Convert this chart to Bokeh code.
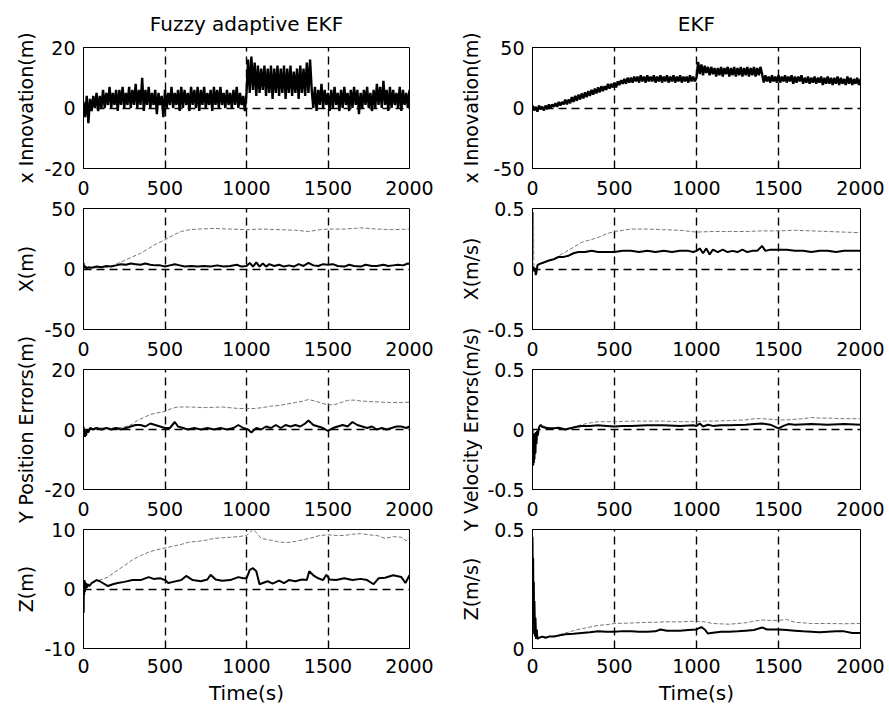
from math import pi
from bokeh.plotting import figure
from bokeh.models import Range1d, FixedTicker, CustomJSTickFormatter, Label
from bokeh.layouts import row, column
from bokeh.embed import file_html
from bokeh.resources import INLINE

FONT = "DejaVu Sans"

# ---------------------------------------------------------------- data
COL_TITLES = ["Fuzzy adaptive EKF", "EKF"]
YLABELS_LEFT = ["x Innovation(m)", "X(m)", "Y Position Errors(m)", "Z(m)"]
YLABELS_RIGHT = ["x Innovation(m)", "X(m/s)", "Y Velocity Errors(m/s)", "Z(m/s)"]
X_LABEL = "Time(s)"

TIME_TICKS = [0, 500, 1000, 1500, 2000]
LEFT_YLIM = [(-20, 20), (-50, 50), (-20, 20), (-10, 10)]
RIGHT_YLIM = [(-50, 50), (-0.5, 0.5), (-0.5, 0.5), (0, 0.5)]
LEFT_YTICKS = [[-20, 0, 20], [-50, 0, 50], [-20, 0, 20], [-10, 0, 10]]
RIGHT_YTICKS = [[-50, 0, 50], [-0.5, 0, 0.5], [-0.5, 0, 0.5], [0, 0.5]]

# innovation traces, sampled every 10 s
INNOV_T = list(range(0, 2001, 10))
FUZZY_INNOV = [
    2, -3, 4, -5, 3, -1, 4, 0, 5, -1,
    4, 0, 6, 0, 5, 1, 7, 0, 5, 1,
    6, -1, 6, 1, 7, 0, 5, 1, 7, 0,
    6, 1, 8, 0, 6, 1, 10, -1, 6, 1,
    7, 0, 5, 1, 6, -2, 5, 1, 4, -3,
    6, 0, 5, 1, 7, 0, 5, 1, 6, -1,
    7, 0, 6, 1, 5, -1, 7, 1, 6, 0,
    7, -1, 6, 1, 7, 0, 5, 1, 6, -1,
    7, 1, 6, 0, 7, 1, 5, 0, 6, 1,
    5, 0, 6, 1, 7, 0, 5, 1, 4, -1,
    5, 16, 5, 17, 6, 15, 4, 14, 5, 13,
    6, 14, 4, 13, 5, 14, 3, 13, 5, 14,
    4, 13, 5, 14, 3, 13, 5, 14, 4, 12,
    5, 13, 3, 14, 5, 13, 4, 15, 5, 16,
    6, 0, 7, -1, 6, 1, 8, 0, 6, 1,
    5, -1, 6, 0, 7, 1, 5, -1, 6, 0,
    7, 1, 5, -1, 6, 0, 7, 1, 6, -2,
    5, 0, 6, 1, 7, 0, 5, -1, 6, 0,
    8, 1, 7, 0, 9, 1, 6, -1, 7, 0,
    6, 1, 5, 0, 7, -1, 6, 1, 5, 0,
    6,
]
EKF_INNOV = [
    2, -2, 1, -3, 2, -1, 1, -2, 2, -1,
    3, 0, 3, 1, 4, 1, 5, 2, 5, 3,
    7, 3, 7, 4, 9, 5, 10, 6, 11, 7,
    12, 8, 13, 9, 14, 10, 15, 11, 16, 12,
    17, 13, 18, 14, 18, 15, 20, 16, 20, 17,
    21, 17, 22, 19, 23, 20, 24, 20, 25, 21,
    25, 21, 26, 22, 26, 21, 27, 22, 26, 21,
    27, 22, 26, 22, 27, 21, 26, 22, 27, 21,
    26, 22, 27, 21, 26, 22, 27, 21, 26, 22,
    27, 21, 26, 22, 26, 21, 27, 22, 26, 22,
    25, 38, 28, 36, 27, 35, 29, 34, 27, 34,
    28, 33, 26, 33, 27, 34, 26, 33, 28, 34,
    26, 33, 27, 34, 26, 33, 27, 34, 26, 33,
    27, 34, 26, 33, 27, 34, 26, 33, 27, 34,
    28, 21, 27, 22, 26, 21, 27, 22, 26, 21,
    27, 21, 26, 22, 27, 21, 26, 22, 27, 20,
    26, 21, 26, 22, 27, 20, 25, 21, 26, 20,
    25, 21, 26, 20, 25, 21, 26, 19, 25, 20,
    26, 20, 25, 19, 25, 20, 26, 19, 25, 20,
    24, 19, 26, 20, 25, 19, 24, 20, 25, 19,
    24,
]

# error traces as (time s, value)
FUZZY_X_SOLID = [(0, 5), (3, 1), (6, 3), (10, 0.5), (15, 2), (20, 0.5), (30, 1.5), (50, 1), (80, 2), (110, 1.5),
                 (140, 2.5), (170, 2), (200, 3), (230, 4), (260, 3.5), (290, 4.5), (320, 4), (350, 3.5), (380, 4.5),
                 (410, 3.5), (440, 3), (470, 3), (500, 2), (530, 3), (560, 4), (590, 3), (620, 2), (660, 2.5),
                 (700, 2), (740, 2.5), (780, 2), (820, 3), (860, 2), (900, 2.5), (940, 3.5), (970, 2), (1000, 2.5),
                 (1020, 5), (1040, 2), (1060, 5.5), (1080, 2), (1100, 4.5), (1120, 2), (1140, 4), (1170, 2.5),
                 (1200, 3.5), (1230, 2), (1260, 3), (1290, 2), (1320, 4), (1350, 2.5), (1380, 5), (1410, 3),
                 (1440, 2.5), (1470, 4), (1500, 3.5), (1530, 4), (1560, 2.5), (1600, 2), (1630, 3.5), (1660, 2.5),
                 (1700, 2), (1730, 3.5), (1770, 2.5), (1800, 2.5), (1840, 3.5), (1870, 2.5), (1900, 3), (1930, 3.5),
                 (1960, 3), (1990, 4.5), (2000, 4)]
FUZZY_X_DOTTED = [(0, 5), (3, 1), (6, 3), (10, 0.5), (20, 1), (50, 1), (100, 1), (150, 1.5), (200, 4), (250, 7),
                  (300, 10), (350, 13), (400, 17), (450, 21), (500, 24), (550, 28), (600, 31), (650, 32.5),
                  (700, 33), (800, 33.5), (900, 33), (1000, 32.5), (1100, 33), (1200, 32.5), (1300, 32),
                  (1380, 31), (1450, 32.5), (1500, 33), (1600, 33), (1700, 34), (1800, 33), (1900, 32.5), (2000, 33)]

EKF_VX_SOLID = [(0, 0), (5, 0.02), (10, -0.02), (15, 0.01), (20, -0.05), (25, -0.02), (30, 0.03), (40, 0.04),
                (60, 0.05), (80, 0.06), (100, 0.07), (130, 0.08), (160, 0.1), (190, 0.1), (220, 0.11), (250, 0.13),
                (280, 0.14), (320, 0.14), (360, 0.15), (400, 0.14), (450, 0.14), (500, 0.14), (550, 0.15),
                (600, 0.15), (650, 0.14), (700, 0.15), (750, 0.14), (800, 0.15), (850, 0.14), (900, 0.15),
                (950, 0.15), (980, 0.14), (1000, 0.15), (1020, 0.17), (1040, 0.13), (1060, 0.17), (1080, 0.12),
                (1100, 0.16), (1130, 0.14), (1160, 0.16), (1190, 0.14), (1220, 0.15), (1250, 0.14), (1280, 0.16),
                (1310, 0.14), (1340, 0.15), (1370, 0.15), (1400, 0.19), (1420, 0.15), (1450, 0.16), (1500, 0.16),
                (1550, 0.16), (1600, 0.15), (1650, 0.15), (1700, 0.14), (1750, 0.15), (1800, 0.15), (1850, 0.14),
                (1900, 0.15), (1950, 0.15), (2000, 0.15)]
EKF_VX_DOTTED = [(0, 0), (2, 0.45), (4, 0.1), (6, 0.47), (8, 0.02), (10, 0.0), (20, -0.03), (30, 0.03), (60, 0.05),
                 (100, 0.07), (150, 0.1), (200, 0.14), (250, 0.18), (300, 0.22), (350, 0.24), (400, 0.26),
                 (450, 0.29), (500, 0.31), (550, 0.32), (600, 0.33), (650, 0.33), (700, 0.33), (800, 0.325),
                 (900, 0.32), (1000, 0.305), (1100, 0.31), (1200, 0.31), (1300, 0.31), (1400, 0.315),
                 (1500, 0.315), (1600, 0.32), (1700, 0.315), (1800, 0.31), (1900, 0.305), (2000, 0.30)]

FUZZY_Y_SOLID = [(0, 1), (3, -1.5), (6, 0), (9, -2.5), (12, -0.5), (16, -2), (22, 0), (30, -1), (40, 0.5), (60, 0),
                 (80, 0.5), (110, 0), (140, 0.5), (170, 0), (200, 0.5), (230, 0), (260, 0.5), (290, 1), (320, 1.5),
                 (350, 1.5), (380, 1), (410, 2), (440, 1.5), (470, 1), (500, 0.5), (530, 0.5), (560, 2.5),
                 (580, 1), (610, 0.5), (640, 0), (680, 0.5), (720, 0), (760, 0.5), (800, 0), (840, 0.5), (880, 0),
                 (920, 0.5), (950, 1.5), (980, 0.5), (1010, 0), (1030, -1), (1060, 0.5), (1090, 0), (1120, 1),
                 (1150, 0.5), (1180, 1.5), (1210, 0.5), (1240, 1.5), (1270, 1), (1300, 1.5), (1330, 1),
                 (1360, 2), (1380, 3), (1410, 1.5), (1440, 1), (1470, 0.5), (1500, -0.5), (1530, 0.5),
                 (1560, 1), (1590, 1.5), (1620, 1), (1650, 2.5), (1680, 1.5), (1710, 1), (1740, 0.5), (1770, 1),
                 (1800, 0), (1830, 0.5), (1860, 0), (1890, 0.5), (1920, 1), (1950, 1), (1980, 0.5), (2000, 1)]
FUZZY_Y_DOTTED = [(0, 1), (3, -1.5), (6, 0), (9, -2.5), (12, -0.5), (16, -2), (22, 0), (30, -1), (40, 0.5),
                  (100, 0.5), (200, 0.5), (250, 0.8), (300, 1.8), (330, 3), (370, 4), (410, 5), (450, 5.5),
                  (500, 6), (540, 7), (580, 7.5), (650, 7.5), (750, 7.3), (850, 7.5), (950, 7), (1000, 7),
                  (1050, 7), (1100, 7.3), (1150, 7.8), (1200, 8), (1250, 8.5), (1300, 9), (1350, 9.5),
                  (1380, 10), (1420, 9.5), (1460, 8.8), (1500, 8.2), (1540, 8.3), (1580, 9), (1620, 9.7),
                  (1660, 9.8), (1700, 9.5), (1760, 9.3), (1800, 9.2), (1880, 9), (1950, 9), (2000, 9.1)]

EKF_VY_SOLID = [(0, 0), (2, -0.12), (4, -0.3), (6, -0.04), (8, -0.28), (10, -0.08), (12, -0.25), (15, -0.03),
                (18, -0.2), (21, -0.02), (24, -0.12), (28, -0.01), (32, -0.05), (40, 0.02), (50, 0.04), (60, 0.02),
                (80, 0.015), (100, 0.01), (130, 0.01), (160, 0.015), (200, 0.0), (230, 0.01), (260, 0.02),
                (300, 0.03), (350, 0.03), (400, 0.035), (450, 0.03), (500, 0.025), (550, 0.03), (600, 0.03),
                (700, 0.035), (800, 0.035), (900, 0.03), (980, 0.035), (1000, 0.03), (1020, 0.05), (1040, 0.025),
                (1070, 0.04), (1100, 0.03), (1150, 0.035), (1200, 0.035), (1300, 0.04), (1350, 0.045),
                (1400, 0.05), (1450, 0.04), (1500, 0.01), (1530, 0.03), (1560, 0.045), (1600, 0.04),
                (1700, 0.045), (1800, 0.04), (1900, 0.045), (2000, 0.04)]
EKF_VY_DOTTED = [(0, 0), (2, -0.12), (4, -0.3), (6, -0.04), (8, -0.28), (10, -0.08), (12, -0.25), (15, -0.03),
                 (18, -0.2), (21, -0.02), (24, -0.12), (28, -0.01), (32, -0.05), (40, 0.02), (50, 0.04),
                 (100, 0.01), (200, 0.005), (250, 0.02), (300, 0.04), (350, 0.055), (400, 0.065), (500, 0.065),
                 (600, 0.07), (700, 0.07), (800, 0.07), (900, 0.065), (1000, 0.065), (1050, 0.07), (1100, 0.07),
                 (1200, 0.075), (1300, 0.08), (1350, 0.09), (1400, 0.09), (1450, 0.085), (1500, 0.08),
                 (1550, 0.08), (1600, 0.085), (1650, 0.09), (1700, 0.1), (1750, 0.095), (1800, 0.095),
                 (1900, 0.09), (2000, 0.09)]

FUZZY_Z_SOLID = [(0, 0), (1, -4), (2, 1.5), (4, -1), (6, 1.5), (8, -0.5), (10, 1.2), (13, 0), (16, 1), (20, 0.2),
                 (25, 0.8), (35, 0.5), (50, 1), (80, 1.5), (100, 1.3), (130, 0.8), (150, 0.5), (180, 0.8),
                 (210, 1), (250, 1.2), (300, 1.5), (350, 1.5), (400, 2), (430, 1.7), (470, 1.8), (500, 1.5),
                 (520, 1), (550, 1.2), (600, 1.5), (630, 2.2), (670, 1.5), (720, 1.3), (760, 1.6), (780, 2.4),
                 (810, 1.6), (850, 1.4), (900, 1.5), (950, 2), (980, 1.8), (1000, 1.8), (1020, 3.2), (1040, 3.5),
                 (1060, 3), (1080, 0.8), (1100, 1), (1130, 1.3), (1160, 0.9), (1200, 1.4), (1230, 1), (1260, 1.5),
                 (1300, 1.3), (1340, 1.6), (1370, 1.5), (1385, 3), (1410, 2.3), (1440, 1.8), (1470, 1.5),
                 (1490, 2.4), (1510, 1.6), (1550, 1.5), (1600, 1.8), (1650, 1.5), (1700, 1.7), (1740, 1.5),
                 (1780, 0.8), (1810, 1.8), (1850, 1.9), (1900, 2.3), (1950, 2), (1975, 1), (2000, 2.3)]
FUZZY_Z_DOTTED = [(0, 0), (1, -4), (2, 1.5), (4, -1), (6, 1.5), (8, -0.5), (10, 1.2), (13, 0), (16, 1), (20, 0.2),
                  (25, 0.8), (35, 0.5), (50, 1), (80, 1.5), (100, 1.5), (150, 2), (200, 3), (250, 3.9), (300, 4.9),
                  (350, 5.6), (400, 6.2), (450, 6.6), (500, 6.9), (550, 7.2), (600, 7.5), (650, 7.9), (700, 8),
                  (750, 8.2), (800, 8.5), (850, 8.6), (900, 8.7), (950, 8.8), (1000, 9), (1020, 9.5), (1040, 10),
                  (1060, 9.5), (1090, 8.5), (1150, 8.2), (1200, 7.9), (1250, 7.8), (1300, 8), (1350, 8.3),
                  (1400, 8.6), (1450, 9), (1500, 9.1), (1550, 9), (1600, 9), (1650, 9.2), (1700, 9.3),
                  (1750, 9.1), (1800, 9), (1850, 8.5), (1900, 8.8), (1950, 8.7), (1980, 8.1), (2000, 8.7)]

EKF_VZ_SOLID = [(0, 0.47), (2, 0.2), (4, 0.38), (6, 0.1), (8, 0.28), (10, 0.06), (12, 0.2), (15, 0.05), (18, 0.13),
                (22, 0.04), (26, 0.08), (30, 0.04), (40, 0.045), (60, 0.05), (80, 0.045), (100, 0.05), (130, 0.05),
                (160, 0.055), (200, 0.06), (250, 0.062), (300, 0.065), (350, 0.068), (400, 0.072), (450, 0.07),
                (500, 0.07), (550, 0.073), (600, 0.072), (650, 0.07), (700, 0.07), (750, 0.072), (780, 0.08),
                (820, 0.075), (900, 0.075), (950, 0.078), (1000, 0.08), (1030, 0.09), (1050, 0.08), (1070, 0.063),
                (1100, 0.066), (1150, 0.07), (1200, 0.07), (1250, 0.072), (1300, 0.075), (1350, 0.078),
                (1400, 0.088), (1430, 0.08), (1500, 0.08), (1550, 0.078), (1600, 0.075), (1650, 0.072),
                (1700, 0.07), (1750, 0.068), (1800, 0.07), (1850, 0.072), (1900, 0.072), (1950, 0.065),
                (2000, 0.065)]
EKF_VZ_DOTTED = [(0, 0.47), (2, 0.2), (4, 0.38), (6, 0.1), (8, 0.28), (10, 0.06), (12, 0.2), (15, 0.05),
                 (18, 0.13), (22, 0.04), (26, 0.08), (30, 0.04), (40, 0.045), (60, 0.05), (100, 0.05),
                 (150, 0.055), (200, 0.065), (250, 0.075), (300, 0.083), (350, 0.09), (400, 0.097), (450, 0.1),
                 (500, 0.105), (600, 0.107), (700, 0.11), (750, 0.11), (800, 0.112), (900, 0.112), (1000, 0.115),
                 (1050, 0.112), (1100, 0.105), (1200, 0.102), (1300, 0.108), (1350, 0.115), (1400, 0.12),
                 (1450, 0.118), (1500, 0.118), (1550, 0.122), (1600, 0.11), (1650, 0.108), (1700, 0.105),
                 (1800, 0.105), (1900, 0.104), (2000, 0.105)]

LEFT_SERIES = [None, (FUZZY_X_SOLID, FUZZY_X_DOTTED), (FUZZY_Y_SOLID, FUZZY_Y_DOTTED), (FUZZY_Z_SOLID, FUZZY_Z_DOTTED)]
RIGHT_SERIES = [None, (EKF_VX_SOLID, EKF_VX_DOTTED), (EKF_VY_SOLID, EKF_VY_DOTTED), (EKF_VZ_SOLID, EKF_VZ_DOTTED)]

# ---------------------------------------------------------------- layout
ROW_TOP = [47, 11, 11, 11]
ROW_FRAME = [121, 121, 120, 119]
ROW_BOTTOM = [29, 29, 29, 62]
COLS = [dict(left=43, frame=326, right=26), dict(left=50, frame=328, right=27)]
STRIP_W = [40, 47]
TOTAL_H = sum(ROW_TOP) + sum(ROW_BOTTOM) + sum(ROW_FRAME)


def make_panel(c, r, ylim, yticks, innov, pair):
    cfg = COLS[c]
    h = ROW_TOP[r] + ROW_FRAME[r] + ROW_BOTTOM[r]
    w = cfg["left"] + cfg["frame"] + cfg["right"]
    p = figure(width=w, height=h, x_range=Range1d(0, 2000), y_range=Range1d(*ylim),
               output_backend="svg", toolbar_location=None,
               title=COL_TITLES[c] if r == 0 else None,
               min_border_left=cfg["left"], min_border_right=cfg["right"],
               min_border_top=ROW_TOP[r], min_border_bottom=ROW_BOTTOM[r])
    p.background_fill_color = "white"
    p.border_fill_color = "white"
    p.outline_line_color = "black"
    p.outline_line_width = 1
    p.xaxis.ticker = FixedTicker(ticks=TIME_TICKS)
    p.yaxis.ticker = FixedTicker(ticks=yticks)
    p.yaxis.formatter = CustomJSTickFormatter(code="return String(tick);")
    p.xaxis.formatter = CustomJSTickFormatter(code="return String(tick);")
    for ax in (p.xaxis[0], p.yaxis[0]):
        ax.axis_line_color = "black"
        ax.major_tick_in = 4
        ax.major_tick_out = 0
        ax.major_tick_line_color = "black"
        ax.minor_tick_line_color = None
        ax.major_label_text_font = FONT
        ax.major_label_text_font_size = "19px"
        ax.major_label_text_color = "black"
        ax.major_label_standoff = 8
    p.xaxis.major_label_standoff = 12
    if r == 3:
        p.xaxis.major_label_standoff = 10
        p.xaxis.axis_label = X_LABEL
        p.xaxis.axis_label_text_font = FONT
        p.xaxis.axis_label_text_font_size = "20px"
        p.xaxis.axis_label_text_font_style = "normal"
        p.xaxis.axis_label_text_color = "black"
        p.xaxis.axis_label_standoff = 5
    for g in (p.xgrid[0], p.ygrid[0]):
        g.grid_line_color = "black"
        g.grid_line_dash = "8 5"
        g.grid_line_width = 1.4
    if r == 0:
        p.title.align = "center"
        p.title.vertical_align = "top"
        p.title.text_font = FONT
        p.title.text_font_size = "20px"
        p.title.text_font_style = "normal"
        p.title.text_color = "black"
        p.title.standoff = 20
    if innov is not None:
        p.line(INNOV_T, innov, line_color="black", line_width=2.4)
    else:
        solid, dotted = pair
        p.line([a for a, _ in dotted], [b for _, b in dotted], line_color="#777777",
               line_width=1, line_dash="4 2")
        p.line([a for a, _ in solid], [b for _, b in solid], line_color="black", line_width=2)
    return p


def make_strip(c, labels, xc):
    s = figure(width=STRIP_W[c], height=TOTAL_H, x_range=Range1d(0, STRIP_W[c]), y_range=Range1d(0, TOTAL_H),
               output_backend="svg", toolbar_location=None, title=None, min_border=0,
               x_axis_location=None, y_axis_location=None)
    s.outline_line_color = None
    s.background_fill_color = "white"
    s.border_fill_color = "white"
    s.grid.visible = False
    top = 0
    for r, txt in enumerate(labels):
        center = top + ROW_TOP[r] + ROW_FRAME[r] / 2
        s.add_layout(Label(x=xc, y=TOTAL_H - center, text=txt, angle=pi / 2, text_align="center",
                           text_baseline="middle", text_font=FONT, text_font_size="19px", text_color="black"))
        top += ROW_TOP[r] + ROW_FRAME[r] + ROW_BOTTOM[r]
    return s


left = [make_panel(0, r, LEFT_YLIM[r], LEFT_YTICKS[r], FUZZY_INNOV if r == 0 else None, LEFT_SERIES[r])
        for r in range(4)]
right = [make_panel(1, r, RIGHT_YLIM[r], RIGHT_YTICKS[r], EKF_INNOV if r == 0 else None, RIGHT_SERIES[r])
         for r in range(4)]
strip_l = make_strip(0, YLABELS_LEFT, 25)
strip_r = make_strip(1, YLABELS_RIGHT, 35)

layout = row(strip_l, column(*left), strip_r, column(*right))

open("out.html", "w").write(file_html(layout, INLINE))
